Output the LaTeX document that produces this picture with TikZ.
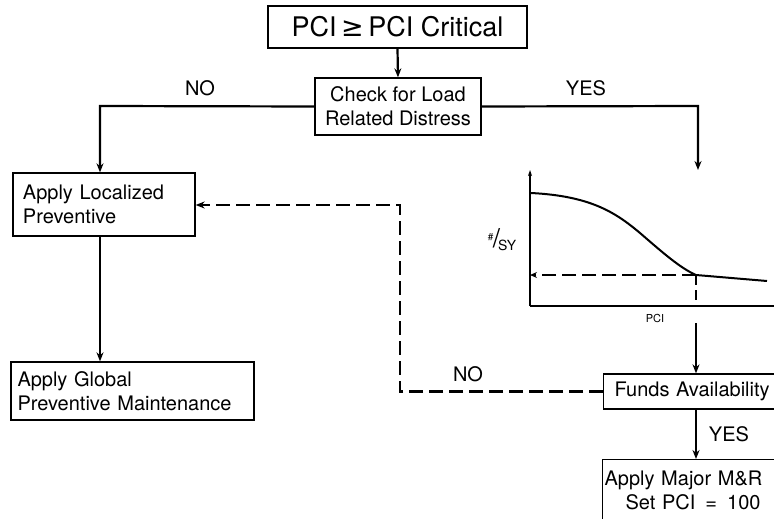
\documentclass[tikz,border=0pt]{standalone}
\usepackage{fontspec}
\setmainfont{TeX Gyre Heros}
\newfontfamily\symfnt{DejaVu Sans}
\usetikzlibrary{arrows.meta}
\tikzset{
  box/.style={draw, line width=1.3pt, inner sep=0pt, font=\fontsize{20}{24}\selectfont},
  lbl/.style={inner sep=0pt, font=\fontsize{20}{24}\selectfont},
  conn/.style={line width=2.2pt, -{Stealth[length=9pt,width=7pt]}},
  dashconn/.style={line width=2.2pt, dash pattern=on 14pt off 6pt},
}
\begin{document}
\begin{tikzpicture}[x=1pt,y=-1pt]
\useasboundingbox (0,0) rectangle (774,519);
\clip (0,0) rectangle (774,519);
\fill[white] (0,0) rectangle (774,519);

% boxes
\node[box, minimum width=259pt, minimum height=42pt, font=\fontsize{27}{30}\selectfont] (top) at (397.5,27) {PCI\,{\symfnt ≥}\,PCI Critical};
\node[box, minimum width=166pt, minimum height=57pt, align=center] (check) at (398,106.5) {Check for Load\\Related Distress};
\node[box, minimum width=182pt, minimum height=63pt, text width=162pt, align=left, inner xsep=10pt] (loc) at (104,204.5) {Apply Localized\\Preventive};
\node[box, minimum width=243pt, minimum height=58pt, text width=230pt, align=left, inner xsep=6.5pt] (glob) at (132.5,391) {Apply Global\\Preventive Maintenance};
\node[box, anchor=west, minimum height=35pt, text width=170pt, align=left, inner xsep=11pt] (funds) at (603,391.5) {Funds Availability};
\node[box, anchor=north west, text width=186pt, align=left, inner xsep=2pt, inner ysep=11pt] (major) at (602,459) {Apply Major M\&R\\\hspace{21pt}Set PCI \,=\, 100\\[20pt]};

% graph
\coordinate (ytop) at (530,170);
\coordinate (orig) at (530,306);
\coordinate (xend) at (790,306);
\coordinate (knee) at (696,275);
\coordinate (yhit) at (530,275);
\coordinate (xhit) at (696,306);
\coordinate (gbot) at (696,323);
\draw[line width=2pt, -{Stealth[length=6pt,width=4pt]}] (orig) -- (ytop);
\draw[line width=1.6pt] (orig) -- (xend);
\draw[line width=2pt] (531,193) .. controls (590,196) and (615,212) .. (640,233)
   .. controls (662,252) and (680,268) .. (knee) -- (767,281);
\draw[dashconn, -{Stealth[length=7pt,width=6pt]}] (knee) -- (yhit);
\draw[line width=1.8pt, dash pattern=on 10pt off 5pt] (knee) -- (xhit);
\node[inner sep=0pt, font=\fontsize{11}{12}\selectfont] (pcilbl) at (655,318) {PCI};
\node[inner sep=0pt] (ylbl) at (502,240) {\raisebox{7pt}{\fontsize{10}{10}\selectfont\#}\kern-0.5pt{\fontsize{26}{26}\selectfont/}\kern-2pt\raisebox{-3pt}{\fontsize{14}{14}\selectfont SY}};

% connectors
\draw[conn] (top.south) -- (check.north);
\coordinate (lc) at (100,106);
\coordinate (rc) at (698,106);
\coordinate (gtop) at (698,170);
\draw[conn] (check.west) -- (lc) -- (lc |- loc.north);
\draw[conn] (check.east) -- (rc) -- (gtop);
\draw[conn] (lc |- loc.south) -- (lc |- glob.north);
\draw[conn] (gbot) -- (gbot |- funds.north);
\draw[conn] (gbot |- funds.south) -- (gbot |- major.north);
\coordinate (d1) at (400,391.5);
\coordinate (d2) at (400,205);
\draw[dashconn, -{Stealth[length=9pt,width=7pt]}] (funds.west) -- (d1) -- (d2) -- (loc.east |- d2);

% labels
\node[lbl] (no1) at (200,88) {NO};
\node[lbl] (yes1) at (586,88) {YES};
\node[lbl] (no2) at (468,374) {NO};
\node[lbl] (yes2) at (729,434) {YES};
\end{tikzpicture}
\end{document}
